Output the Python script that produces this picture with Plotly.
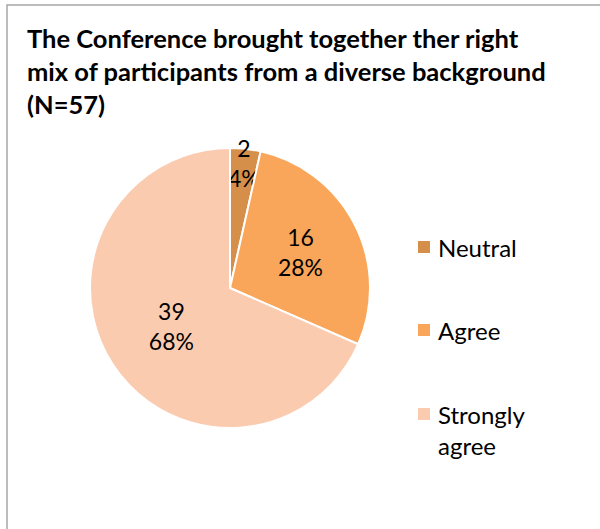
import plotly.graph_objects as go

categories = ["Neutral", "Agree", "Strongly agree"]
counts = [2, 16, 39]
colors = ["#D68E4B", "#F9A65A", "#FBCBB0"]
title_lines = ["The Conference brought together ther right",
               "mix of participants from a diverse background",
               "(N=57)"]

W, H = 600, 529
def px(x): return x / W
def py(y): return 1 - y / H

total = sum(counts)
texts = [f"{c}<br>{round(100*c/total)}%" for c in counts]

font = "Lato"
fig = go.Figure(go.Pie(
    labels=categories, values=counts, text=texts, textinfo="text",
    textposition="inside", insidetextorientation="horizontal",
    sort=False, direction="clockwise", rotation=0,
    marker=dict(colors=colors, line=dict(color="white", width=2)),
    textfont=dict(family=font, size=23, color="black"),
    domain=dict(x=[px(90), px(370)], y=[py(428), py(148)]),
    showlegend=False, hoverinfo="label+value+percent",
))

# title
fig.add_annotation(text="<b>" + "<br>".join(title_lines) + "</b>",
                   xref="paper", yref="paper",
                   x=px(25), y=py(21), xanchor="left", yanchor="top", align="left",
                   showarrow=False, font=dict(family=font, size=25.5, color="black"))

# manual legend
leg_y = [247, 330, 414]
for cat, col, yy in zip(categories, colors, leg_y):
    fig.add_shape(type="rect", xref="paper", yref="paper",
                  x0=px(418), x1=px(430), y0=py(yy - 6), y1=py(yy + 6),
                  fillcolor=col, line=dict(width=0))
    label = cat.replace(" ", "<br>") if cat == "Strongly agree" else cat
    fig.add_annotation(text=label, xref="paper", yref="paper",
                       x=px(436), y=py(yy - 16), xanchor="left", yanchor="top",
                       align="left", showarrow=False,
                       font=dict(family=font, size=24, color="black"))

# chart frame
fig.add_shape(type="rect", xref="paper", yref="paper",
              x0=px(7), x1=px(620), y0=py(560), y1=py(5),
              line=dict(color="#A6A6A6", width=1.5), fillcolor="rgba(0,0,0,0)")

fig.update_layout(width=W, height=H, margin=dict(l=0, r=0, t=0, b=0),
                  paper_bgcolor="white", plot_bgcolor="white",
                  uniformtext=dict(minsize=23, mode="show"))

fig.write_html("out.html", config={"displayModeBar": False},
               post_script="document.body.style.margin='0';")
